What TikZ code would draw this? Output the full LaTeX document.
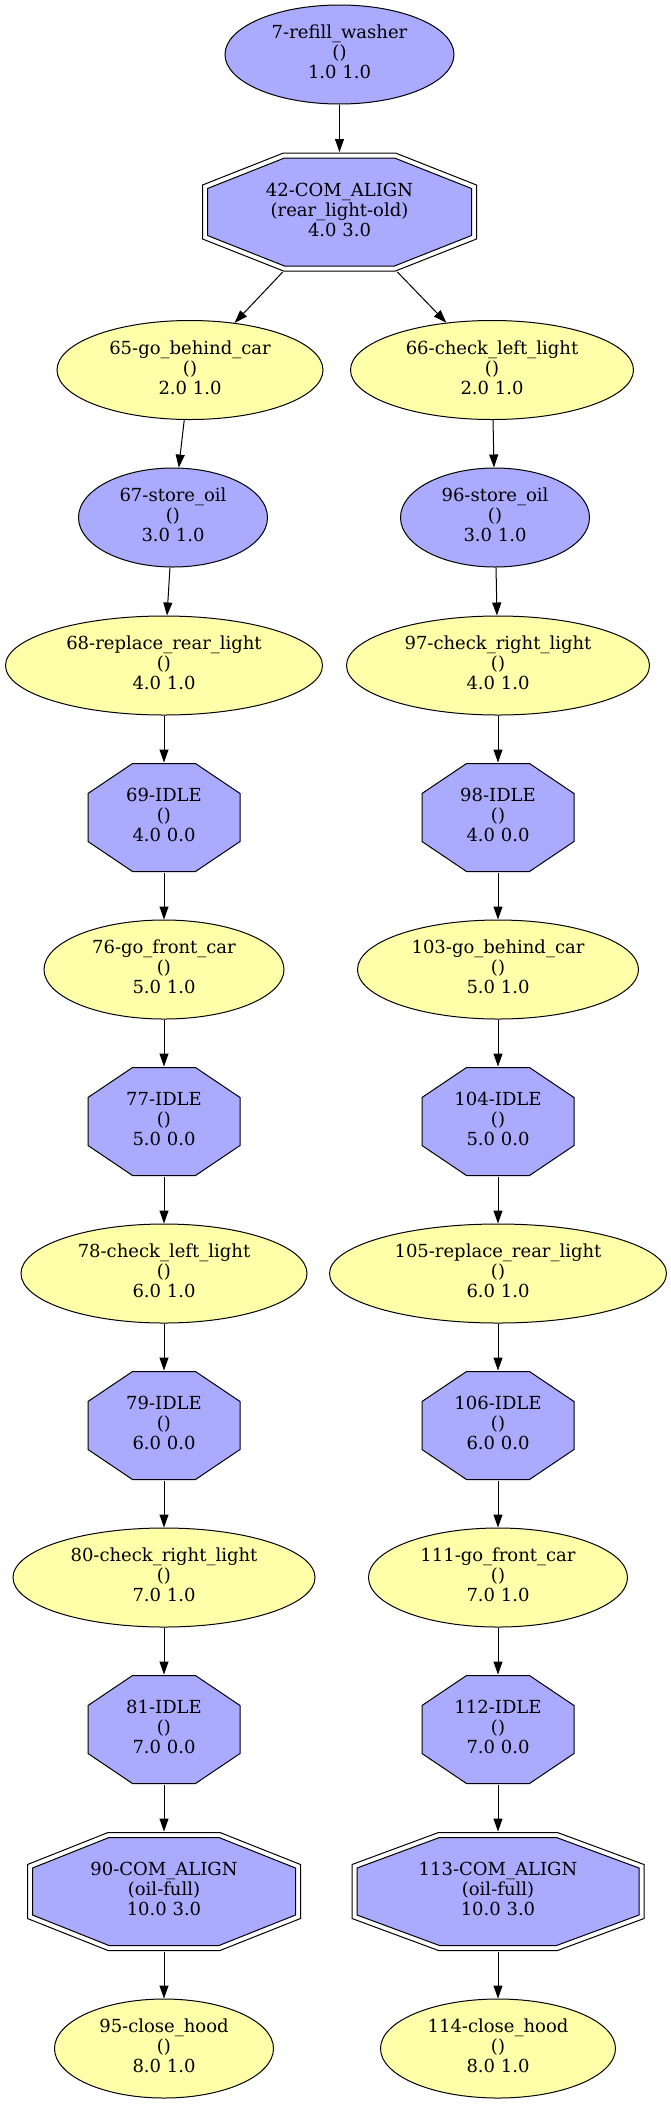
\documentclass[tikz,border=0pt]{standalone}
\usepackage{fontspec}
\setmainfont{DejaVu Serif}
\usetikzlibrary{shapes.geometric,arrows.meta}
\definecolor{actblue}{HTML}{AAAAFF}
\definecolor{actyellow}{HTML}{FFFFAA}
% three lines of a node, kept out of the shape size
\newcommand{\nlab}[3]{\makebox[0pt]{\begin{tabular}{@{}c@{}}#1\\#2\\#3\end{tabular}}}
% octagon inside the path picture box: inset, cut x, cut y
\newcommand{\octpath}[3]{%
  ([shift={(#2,-#1)}]path picture bounding box.north west) --
  ([shift={(-#2,-#1)}]path picture bounding box.north east) --
  ([shift={(-#1,-#3)}]path picture bounding box.north east) --
  ([shift={(-#1,#3)}]path picture bounding box.south east) --
  ([shift={(-#2,#1)}]path picture bounding box.south east) --
  ([shift={(#2,#1)}]path picture bounding box.south west) --
  ([shift={(#1,#3)}]path picture bounding box.south west) --
  ([shift={(#1,-#3)}]path picture bounding box.north west) -- cycle}
\tikzset{
  act/.style={ellipse, draw, fill=actyellow, minimum width=#1, minimum height=99pt, inner sep=0pt},
  actb/.style={ellipse, draw, fill=actblue, minimum width=#1, minimum height=99pt, inner sep=0pt},
  idle/.style={rectangle, fill=white, minimum width=153pt, minimum height=109pt, inner sep=0pt,
    path picture={\filldraw[fill=actblue] \octpath{0.5pt}{45pt}{30.5pt};}},
  comalign/.style n args={3}{rectangle, fill=white, minimum width=#1, minimum height=119pt, inner sep=0pt,
    path picture={\draw \octpath{0.5pt}{#2}{32.5pt};
      \filldraw[fill=actblue] \octpath{5.5pt}{#3}{36pt};}},
}
\begin{document}
\begin{tikzpicture}[x=1pt,y=-1pt,line width=1pt,>={Triangle[length=13pt,width=9pt]},
  font=\fontsize{18}{20}\selectfont]
\useasboundingbox (0,0) rectangle (671,2105);

\node[actb=229pt] (n7) at (339.5,54.5) {\nlab{7-refill\_washer}{()}{1.0 1.0}};
\node[comalign={275pt}{81.5pt}{82.5pt}] (n42) at (339.5,212) {\nlab{42-COM\_ALIGN}{(rear\_light-old)}{4.0 3.0}};

% left branch
\node[act=266pt] (n65) at (190,370) {\nlab{65-go\_behind\_car}{()}{2.0 1.0}};
\node[actb=189pt] (n67) at (173,517.5) {\nlab{67-store\_oil}{()}{3.0 1.0}};
\node[act=317pt] (n68) at (164,665.5) {\nlab{68-replace\_rear\_light}{()}{4.0 1.0}};
\node[idle] (n69) at (164,817.5) {\nlab{69-IDLE}{()}{4.0 0.0}};
\node[act=240pt] (n76) at (164,969.5) {\nlab{76-go\_front\_car}{()}{5.0 1.0}};
\node[idle] (n77) at (164,1121.5) {\nlab{77-IDLE}{()}{5.0 0.0}};
\node[act=286pt] (n78) at (164,1273.5) {\nlab{78-check\_left\_light}{()}{6.0 1.0}};
\node[idle] (n79) at (164,1425.5) {\nlab{79-IDLE}{()}{6.0 0.0}};
\node[act=302pt] (n80) at (164,1577.5) {\nlab{80-check\_right\_light}{()}{7.0 1.0}};
\node[idle] (n81) at (164,1729.5) {\nlab{81-IDLE}{()}{7.0 0.0}};
\node[comalign={274pt}{81pt}{82pt}] (n90) at (164,1891.5) {\nlab{90-COM\_ALIGN}{(oil-full)}{10.0 3.0}};
\node[act=219pt] (n95) at (164,2048.5) {\nlab{95-close\_hood}{()}{8.0 1.0}};

% right branch
\node[act=283pt] (n66) at (492,370) {\nlab{66-check\_left\_light}{()}{2.0 1.0}};
\node[actb=189pt] (n96) at (495,517.5) {\nlab{96-store\_oil}{()}{3.0 1.0}};
\node[act=303pt] (n97) at (498,665.5) {\nlab{97-check\_right\_light}{()}{4.0 1.0}};
\node[idle] (n98) at (498,817.5) {\nlab{98-IDLE}{()}{4.0 0.0}};
\node[act=281pt] (n103) at (498,969.5) {\nlab{103-go\_behind\_car}{()}{5.0 1.0}};
\node[idle] (n104) at (498,1121.5) {\nlab{104-IDLE}{()}{5.0 0.0}};
\node[act=337pt] (n105) at (498,1273.5) {\nlab{105-replace\_rear\_light}{()}{6.0 1.0}};
\node[idle] (n106) at (498,1425.5) {\nlab{106-IDLE}{()}{6.0 0.0}};
\node[act=259pt] (n111) at (498,1577.5) {\nlab{111-go\_front\_car}{()}{7.0 1.0}};
\node[idle] (n112) at (498,1729.5) {\nlab{112-IDLE}{()}{7.0 0.0}};
\node[comalign={293pt}{87pt}{88pt}] (n113) at (498,1891.5) {\nlab{113-COM\_ALIGN}{(oil-full)}{10.0 3.0}};
\node[act=235pt] (n114) at (498,2048.5) {\nlab{114-close\_hood}{()}{8.0 1.0}};

\foreach \a/\b in {7/42,42/65,42/66,65/67,67/68,68/69,69/76,76/77,77/78,78/79,79/80,80/81,81/90,90/95,
  66/96,96/97,97/98,98/103,103/104,104/105,105/106,106/111,111/112,112/113,113/114}
  \draw[->] (n\a) -- (n\b);
\end{tikzpicture}
\end{document}
